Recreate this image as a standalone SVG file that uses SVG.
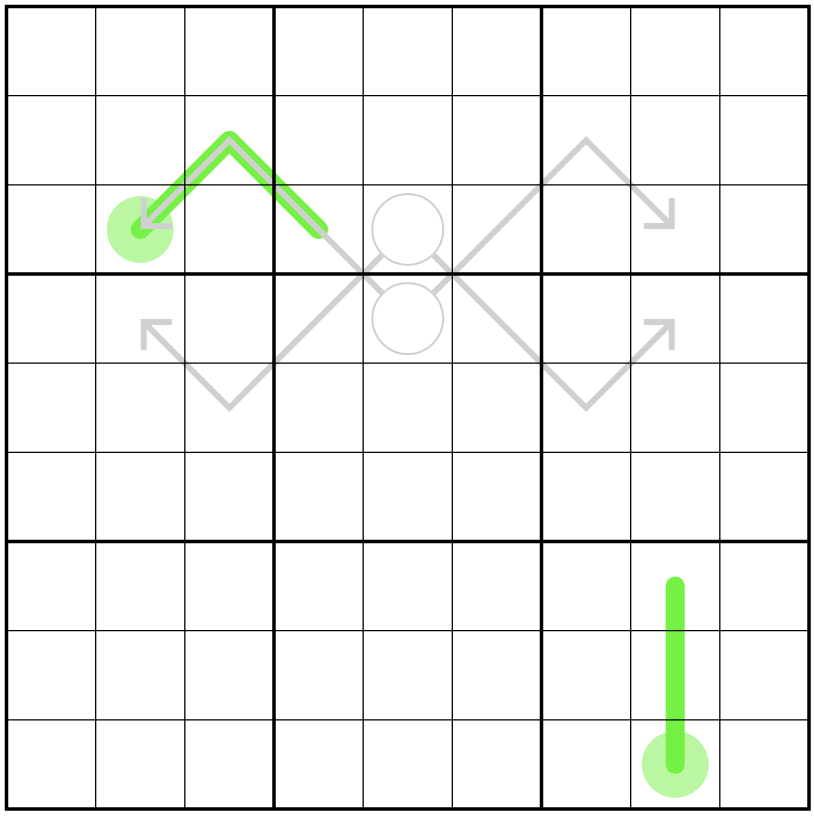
<svg xmlns="http://www.w3.org/2000/svg" width="814" height="816" viewBox="0 0 814 816">
<style>
.bulb{fill:#bbf7a3}
.thermo{fill:none;stroke:#75f044;stroke-width:19;stroke-linecap:round;stroke-linejoin:round}
.arrow{fill:none;stroke:#d0d0d0;stroke-width:6}
.ring{fill:none;stroke:#d0d0d0;stroke-width:2}
.thin{stroke:#000;stroke-width:1.3}
.thick{stroke:#000;stroke-width:3.5}
</style>
<rect width="814" height="816" fill="#fff"/>
<g id="thermo1">
<circle class="bulb" cx="140.25" cy="229.42" r="33.5"/>
<path class="thermo" d="M140.25,229.42 L229.42,140.25 L318.58,229.42"/>
</g>
<g id="thermo2">
<circle class="bulb" cx="675.25" cy="764.42" r="33.5"/>
<path class="thermo" d="M675.25,586.08 L675.25,764.42"/>
</g>
<g id="connectors">
<path class="arrow" d="M382.3,293.1 L229.42,140.25 L143.75,225.92"/>
<path class="arrow" d="M143.75,197.92 L143.75,225.92 L171.75,225.92"/>
<path class="arrow" d="M381.94,255.23 L229.42,407.75 L143.75,322.08"/>
<path class="arrow" d="M143.75,350.08 L143.75,322.08 L171.75,322.08"/>
<path class="arrow" d="M433.56,255.23 L586.08,407.75 L671.75,322.08"/>
<path class="arrow" d="M643.75,322.08 L671.75,322.08 L671.75,350.08"/>
<path class="arrow" d="M433.56,292.77 L586.08,140.25 L671.75,225.92"/>
<path class="arrow" d="M643.75,225.92 L671.75,225.92 L671.75,197.92"/>
</g>
<g id="circle-top"><circle class="ring" cx="407.75" cy="229.42" r="35.5"/></g>
<g id="circle-bottom"><circle class="ring" cx="407.75" cy="318.58" r="35.5"/></g>
<g id="grid">
<path class="thin" d="M95.67,6.5V809 M184.83,6.5V809 M363.17,6.5V809 M452.33,6.5V809 M630.67,6.5V809 M719.83,6.5V809 M6.5,95.67H809 M6.5,184.83H809 M6.5,363.17H809 M6.5,452.33H809 M6.5,630.67H809 M6.5,719.83H809"/>
<path class="thick" d="M274,6.5V809 M541.5,6.5V809 M6.5,274H809 M6.5,541.5H809"/>
<rect x="6.5" y="6.5" width="802.5" height="802.5" fill="none" stroke="#000" stroke-width="3.5"/>
</g>
</svg>
